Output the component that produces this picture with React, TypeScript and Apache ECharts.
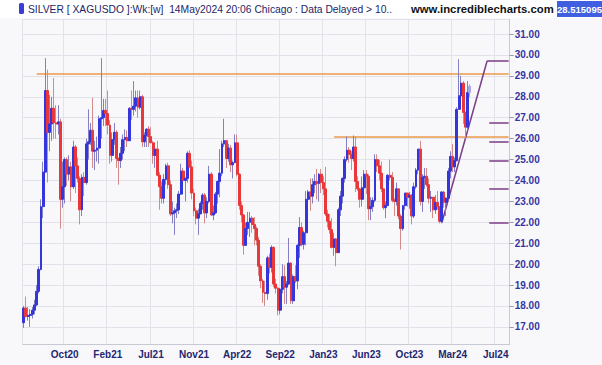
import React, { useEffect, useRef } from "react";
import * as echarts from "echarts";

// Weekly bars, [open, high, low, close]
const ohlc2020: number[][] = [
  [17.2, 18.0, 16.95, 17.9], [17.9, 18.45, 17.45, 17.5], [17.5, 17.95, 17.3, 17.55], [17.55, 17.85, 17.0, 17.6],
  [17.6, 17.95, 17.4, 17.8], [17.8, 18.3, 17.6, 18.05], [18.05, 19.0, 18.0, 18.7], [18.7, 19.9, 18.6, 19.75],
  [19.75, 23.1, 19.7, 22.75], [22.75, 24.9, 22.2, 24.4], [24.4, 29.85, 24.4, 28.3], [28.3, 29.3, 23.9, 26.3],
  [26.3, 28.1, 25.4, 26.7], [26.7, 28.0, 25.9, 27.45], [27.45, 28.9, 26.0, 26.75], [26.75, 27.6, 26.0, 26.7],
  [26.7, 27.6, 26.2, 26.8], [26.8, 26.95, 21.7, 23.1], [23.1, 24.9, 22.7, 23.7], [23.7, 25.1, 22.9, 25.0],
  [25.0, 25.1, 23.75, 24.3], [24.3, 25.2, 24.0, 24.65], [24.65, 24.9, 23.0, 23.7], [23.7, 25.9, 23.6, 25.6],
  [25.6, 25.7, 23.4, 24.7], [24.7, 25.1, 23.9, 24.1], [24.1, 24.2, 21.9, 22.6], [22.6, 24.3, 22.3, 24.15],
  [24.15, 24.4, 23.25, 23.9], [23.9, 26.0, 23.8, 25.75], [25.75, 27.4, 25.0, 25.85], [25.85, 26.75, 25.7, 26.4],
];
const ohlc2021: number[][] = [
  [26.4, 27.95, 24.6, 25.4], [25.4, 25.9, 24.5, 25.45], [25.45, 26.1, 24.9, 25.55], [25.55, 27.1, 24.8, 26.95],
  [26.95, 29.85, 26.0, 27.0], [27.0, 27.9, 26.6, 27.35], [27.35, 27.9, 26.6, 27.2], [27.2, 28.3, 26.2, 26.65],
  [26.65, 26.9, 24.8, 25.2], [25.2, 26.3, 24.9, 25.95], [25.95, 26.75, 25.7, 26.3], [26.3, 26.4, 24.6, 25.05],
  [25.05, 25.1, 23.8, 24.95], [24.95, 25.6, 24.6, 25.3], [25.3, 26.2, 25.0, 25.95], [25.95, 26.45, 25.4, 26.05],
  [26.05, 26.4, 25.6, 25.9], [25.9, 27.5, 25.9, 27.45], [27.45, 28.3, 26.9, 27.4], [27.4, 28.75, 27.1, 27.55],
  [27.55, 28.3, 27.3, 27.95], [27.95, 28.3, 27.0, 27.5], [27.5, 28.3, 27.4, 28.0], [28.0, 28.1, 25.6, 25.85],
  [25.85, 26.3, 25.6, 26.15], [26.15, 26.5, 25.6, 26.45], [26.45, 26.6, 25.6, 26.1], [26.1, 26.55, 25.8, 25.8],
  [25.8, 25.9, 24.8, 25.2], [25.2, 25.8, 24.6, 25.5], [25.5, 25.9, 24.2, 24.25], [24.25, 24.4, 22.6, 23.7],
  [23.7, 23.95, 22.9, 23.15], [23.15, 24.3, 22.9, 24.05], [24.05, 24.8, 23.8, 24.7], [24.7, 24.85, 23.6, 23.8],
  [23.8, 24.0, 22.3, 22.4], [22.4, 23.0, 21.95, 22.45], [22.45, 22.7, 21.4, 22.55], [22.55, 22.9, 22.2, 22.6],
  [22.6, 23.5, 22.4, 23.35], [23.35, 24.8, 23.3, 24.45], [24.45, 24.6, 23.8, 24.0], [24.0, 24.15, 23.0, 24.1],
  [24.1, 25.4, 23.9, 25.3], [25.3, 25.45, 24.6, 24.65], [24.65, 24.95, 23.1, 23.4], [23.4, 23.6, 22.3, 22.55],
  [22.55, 22.7, 21.9, 22.2], [22.2, 22.65, 21.4, 22.4], [22.4, 23.0, 22.4, 22.9], [22.9, 23.4, 22.6, 23.3],
];
const ohlc2022: number[][] = [
  [23.3, 23.4, 21.95, 22.45], [22.45, 23.2, 22.2, 23.0], [23.0, 24.7, 22.9, 24.3], [24.3, 24.4, 22.3, 22.35],
  [22.35, 22.8, 22.1, 22.45], [22.45, 23.45, 22.4, 23.35], [23.35, 24.0, 22.9, 23.95], [23.95, 25.5, 23.2, 24.35],
  [24.35, 25.9, 24.2, 25.75], [25.75, 26.95, 25.6, 25.9], [25.9, 25.9, 24.6, 25.05], [25.05, 25.75, 24.9, 25.55],
  [25.55, 25.7, 24.4, 24.75], [24.75, 24.95, 24.1, 24.85], [24.85, 26.2, 24.85, 25.8], [25.8, 26.2, 24.2, 24.3],
  [24.3, 24.35, 22.6, 22.8], [22.8, 23.0, 22.0, 22.35], [22.35, 22.4, 20.45, 20.9], [20.9, 22.0, 20.9, 21.7],
  [21.7, 22.5, 21.4, 22.0], [22.0, 22.5, 21.3, 22.2], [22.2, 22.3, 21.5, 21.9], [21.9, 22.25, 20.9, 21.7],
  [21.7, 21.8, 20.9, 21.15], [21.15, 21.3, 19.45, 19.9], [19.9, 20.0, 18.85, 19.2], [19.2, 19.3, 18.15, 18.65],
  [18.65, 19.2, 18.0, 18.6], [18.6, 20.4, 18.3, 20.3], [20.3, 20.5, 19.55, 19.85], [19.85, 20.9, 19.6, 20.8],
  [20.8, 20.85, 18.9, 19.05], [19.05, 19.3, 18.6, 18.85], [18.85, 18.9, 17.55, 17.8], [17.8, 18.8, 17.6, 18.8],
  [18.8, 20.0, 18.6, 19.4], [19.4, 19.95, 18.1, 18.9], [18.9, 19.2, 18.1, 19.05], [19.05, 21.25, 19.0, 20.05],
  [20.05, 20.1, 18.1, 18.25], [18.25, 19.5, 18.1, 19.4], [19.4, 19.95, 19.1, 19.2], [19.2, 20.95, 18.8, 20.9],
  [20.9, 22.25, 20.3, 21.75], [21.75, 22.0, 20.85, 20.95], [20.95, 21.6, 20.7, 21.5], [21.5, 23.5, 20.9, 23.1],
  [23.1, 23.55, 22.1, 23.45], [23.45, 24.1, 22.55, 23.25], [23.25, 24.1, 22.9, 23.8], [23.8, 24.3, 23.4, 23.95],
];
const ohlc2023: number[][] = [
  [23.95, 24.55, 23.1, 23.85], [23.85, 24.35, 23.0, 24.3], [24.3, 24.55, 23.4, 23.9], [23.9, 24.2, 23.3, 23.6],
  [23.6, 24.65, 22.3, 22.4], [22.4, 22.6, 21.75, 22.05], [22.05, 22.4, 21.45, 21.65], [21.65, 22.2, 20.75, 20.8],
  [20.8, 21.5, 20.4, 21.2], [21.2, 21.25, 19.9, 20.55], [20.55, 22.7, 20.6, 22.6], [22.6, 23.5, 22.3, 23.25],
  [23.25, 24.15, 22.9, 24.1], [24.1, 25.15, 23.9, 25.0], [25.0, 26.1, 24.9, 25.45], [25.45, 25.6, 24.85, 25.25],
  [25.25, 25.4, 24.5, 25.05], [25.05, 26.15, 24.9, 25.6], [25.6, 26.1, 23.45, 23.95], [23.95, 24.2, 23.5, 23.6],
  [23.6, 23.65, 22.7, 23.1], [23.1, 24.2, 22.75, 23.65], [23.65, 24.5, 23.3, 24.3], [24.3, 24.5, 23.35, 24.2],
  [24.2, 24.3, 22.1, 22.65], [22.65, 23.2, 22.1, 22.75], [22.75, 23.2, 22.5, 23.05], [23.05, 25.25, 22.95, 25.0],
  [25.0, 25.25, 24.4, 24.7], [24.7, 25.0, 24.0, 24.35], [24.35, 24.9, 23.45, 23.6], [23.6, 23.6, 22.6, 22.7],
  [22.7, 23.0, 22.2, 22.8], [22.8, 24.3, 22.85, 24.25], [24.25, 25.0, 24.0, 24.15], [24.15, 24.4, 22.95, 23.05],
  [23.05, 23.15, 22.3, 23.0], [23.0, 23.9, 22.8, 23.6], [23.6, 23.6, 22.15, 22.3], [22.3, 22.4, 20.7, 21.7],
  [21.7, 22.8, 21.6, 22.8], [22.8, 23.4, 22.6, 23.4], [23.4, 23.4, 22.75, 23.2], [23.2, 23.45, 22.65, 23.3],
  [23.3, 23.35, 21.9, 22.3], [22.3, 23.9, 22.2, 23.7], [23.7, 24.6, 23.6, 24.5], [24.5, 25.5, 24.3, 25.5],
  [25.5, 25.9, 22.8, 23.0], [23.0, 24.3, 22.5, 24.15], [24.15, 24.6, 23.6, 24.2], [24.2, 24.6, 23.7, 23.8],
];
const ohlc2024: number[][] = [
  [23.8, 24.1, 22.9, 23.15], [23.15, 23.5, 22.5, 23.2], [23.2, 23.2, 22.2, 22.6], [22.6, 23.3, 22.4, 22.95],
  [22.95, 23.5, 22.6, 22.75], [22.75, 22.75, 21.95, 22.05], [22.05, 23.5, 21.95, 23.45], [23.45, 23.5, 22.7, 22.95],
  [22.95, 23.2, 22.3, 23.15], [23.15, 24.6, 23.1, 24.45], [24.45, 25.4, 24.1, 25.15], [25.15, 25.75, 24.4, 24.65],
  [24.65, 25.1, 24.4, 24.95], [24.95, 27.5, 24.9, 27.4], [27.4, 29.8, 27.4, 28.05], [28.05, 29.0, 27.6, 28.65],
  [28.65, 28.75, 26.7, 27.25], [27.25, 27.3, 26.0, 26.55], [26.55, 28.75, 26.4, 28.2], [28.2, 28.6, 28.0, 28.5],
];

// x-axis tick labels (category index of the week) and their texts
const tickIndex = [19, 39, 59, 79, 99, 119, 139, 159, 179, 199, 219];
const tickLabels = ["Oct20", "Feb21", "Jul21", "Nov21", "Apr22", "Sep22", "Jan23", "Jun23", "Oct23", "Mar24", "Jul24"];
const totalWeeks = 226;

// drawn lines: [startIndex, endIndex, value] / trendline points
const orangeLevels: number[][] = [[6, 225, 29.08], [144, 225, 26.07]];
const trendLine: number[][] = [[194, 21.98], [215, 29.71], [225, 29.71]];
const purpleLevels: number[][] = [[216, 225, 26.76], [216, 225, 25.83], [216, 225, 24.93], [216, 225, 23.61], [216, 225, 21.98]];

const headerText = "SILVER [ XAGUSDO ]:Wk:[w]  14May2024 20:06 Chicago : Data Delayed > 10..";
const siteText = "www.incrediblecharts.com";
const lastPrice = "28.515095";

const UP = "#3535dc";
const DOWN = "#e8383a";
const UP_WICK = "#8480c4";
const DOWN_WICK = "#d48a8a";
const PALE = "#a6a6ea";
const ORANGE = "#ec9a48";
const PURPLE = "#7b3d86";
const FONT = 'Arial, "Liberation Sans", sans-serif';

export default function App() {
  const ref = useRef<HTMLDivElement>(null);
  useEffect(() => {
    const bars = [...ohlc2020, ...ohlc2021, ...ohlc2022, ...ohlc2023, ...ohlc2024];
    const cats = Array.from({ length: totalWeeks }, (_, i) => String(i));
    const lastIdx = bars.length - 1;
    const wickData = bars.map(([o, h, l, c], i) => {
      const col = i === lastIdx ? PALE : c >= o ? UP_WICK : DOWN_WICK;
      return { value: [l, h, l, h], itemStyle: { color: col, color0: col, borderColor: col, borderColor0: col } };
    });
    const bodyData = bars.map(([o, h, l, c], i) => {
      const col = i === lastIdx ? PALE : c >= o ? UP : DOWN;
      return {
        value: [o, c, Math.min(o, c), Math.max(o, c)],
        itemStyle: { color: col, color0: col, borderColor: col, borderColor0: col },
      };
    });
    const labelMap: Record<number, string> = {};
    tickIndex.forEach((t, k) => (labelMap[t] = tickLabels[k]));

    const markData: any[] = [];
    orangeLevels.forEach(([a, b, v]) =>
      markData.push([{ coord: [a, v], lineStyle: { color: ORANGE, width: 1.5, type: "solid" } }, { coord: [b, v] }])
    );
    for (let k = 0; k < trendLine.length - 1; k++) {
      markData.push([
        { coord: trendLine[k], lineStyle: { color: PURPLE, width: 1.5, type: "solid" } },
        { coord: trendLine[k + 1] },
      ]);
    }
    purpleLevels.forEach(([a, b, v]) =>
      markData.push([{ coord: [a, v], lineStyle: { color: PURPLE, width: 1.5, type: "solid" } }, { coord: [b, v] }])
    );

    const chart = echarts.init(ref.current!, null, { renderer: "svg" });
    chart.setOption({
      animation: false,
      backgroundColor: "#f8f8fb",
      grid: { left: 22.7, right: 92.3, top: 19.4, bottom: 20.3 },
      xAxis: {
        type: "category",
        data: cats,
        boundaryGap: true,
        axisLine: { show: true, lineStyle: { color: "#c9c9d3" } },
        axisTick: { show: false },
        axisLabel: {
          interval: (i: number) => labelMap[i] !== undefined,
          formatter: (_v: string, i: number) => labelMap[i] ?? "",
          color: "#1f2670",
          fontWeight: "bold",
          fontSize: 10,
          fontFamily: FONT,
          margin: 5,
        },
        splitLine: {
          show: true,
          interval: (i: number) => i === 0 || labelMap[i] !== undefined,
          lineStyle: { color: "#e2e2ea", width: 1 },
        },
      },
      yAxis: {
        type: "value",
        position: "right",
        min: 16.15,
        max: 31.7,
        splitNumber: 15,
        axisLine: { show: true, lineStyle: { color: "#c9c9d3" } },
        axisTick: { show: true, length: 4, lineStyle: { color: "#9898b0" } },
        axisLabel: {
          showMinLabel: false,
          showMaxLabel: false,
          formatter: (v: number) => (Math.abs(v - Math.round(v)) < 1e-6 ? v.toFixed(2) : ""),
          color: "#3535a2",
          fontWeight: "bold",
          fontSize: 10,
          fontFamily: FONT,
          margin: 5,
        },
        splitLine: { show: true, lineStyle: { color: "#e2e2ea", width: 1 } },
      },
      series: [
        {
          type: "candlestick",
          name: "wick",
          data: wickData,
          barWidth: 0.4,
          itemStyle: { borderWidth: 1 },
          silent: true,
          z: 2,
          markLine: {
            silent: true,
            symbol: ["none", "none"],
            label: { show: false },
            emphasis: { disabled: true },
            data: markData,
            z: 1,
          },
        },
        {
          type: "candlestick",
          name: "body",
          data: bodyData,
          barWidth: 2.4,
          itemStyle: { borderWidth: 1 },
          silent: true,
          z: 3,
        },
      ],
      graphic: [
        { type: "rect", shape: { x: 0, y: 0, width: 602, height: 18 }, style: { fill: "#ffffff" }, z: 0 },
        { type: "rect", shape: { x: 19, y: 3, width: 5, height: 11, r: 1.5 }, style: { fill: "#3b3bd6" }, z: 1 },
        {
          type: "text",
          x: 28,
          y: 9,
          z: 1,
          style: { text: headerText, fill: "#1e2468", fontSize: 10.3, fontFamily: FONT, verticalAlign: "middle" },
        },
        {
          type: "text",
          x: 411,
          y: 9,
          z: 1,
          style: { text: siteText, fill: "#111111", fontSize: 11.3, fontWeight: "bold", fontFamily: FONT, verticalAlign: "middle" },
        },
        { type: "rect", shape: { x: 557, y: 1, width: 45, height: 16 }, style: { fill: "#3f5fe0" }, z: 1 },
        {
          type: "text",
          x: 579.5,
          y: 9,
          z: 2,
          style: { text: lastPrice, fill: "#ffffff", fontSize: 9.5, fontWeight: "bold", fontFamily: FONT, align: "center", verticalAlign: "middle" },
        },
      ],
    });
    return () => chart.dispose();
  }, []);
  return (
    <div
      ref={ref}
      style={{ position: "fixed", left: 0, top: 0, width: 602, height: 365, background: "#f8f8fb" }}
    />
  );
}
